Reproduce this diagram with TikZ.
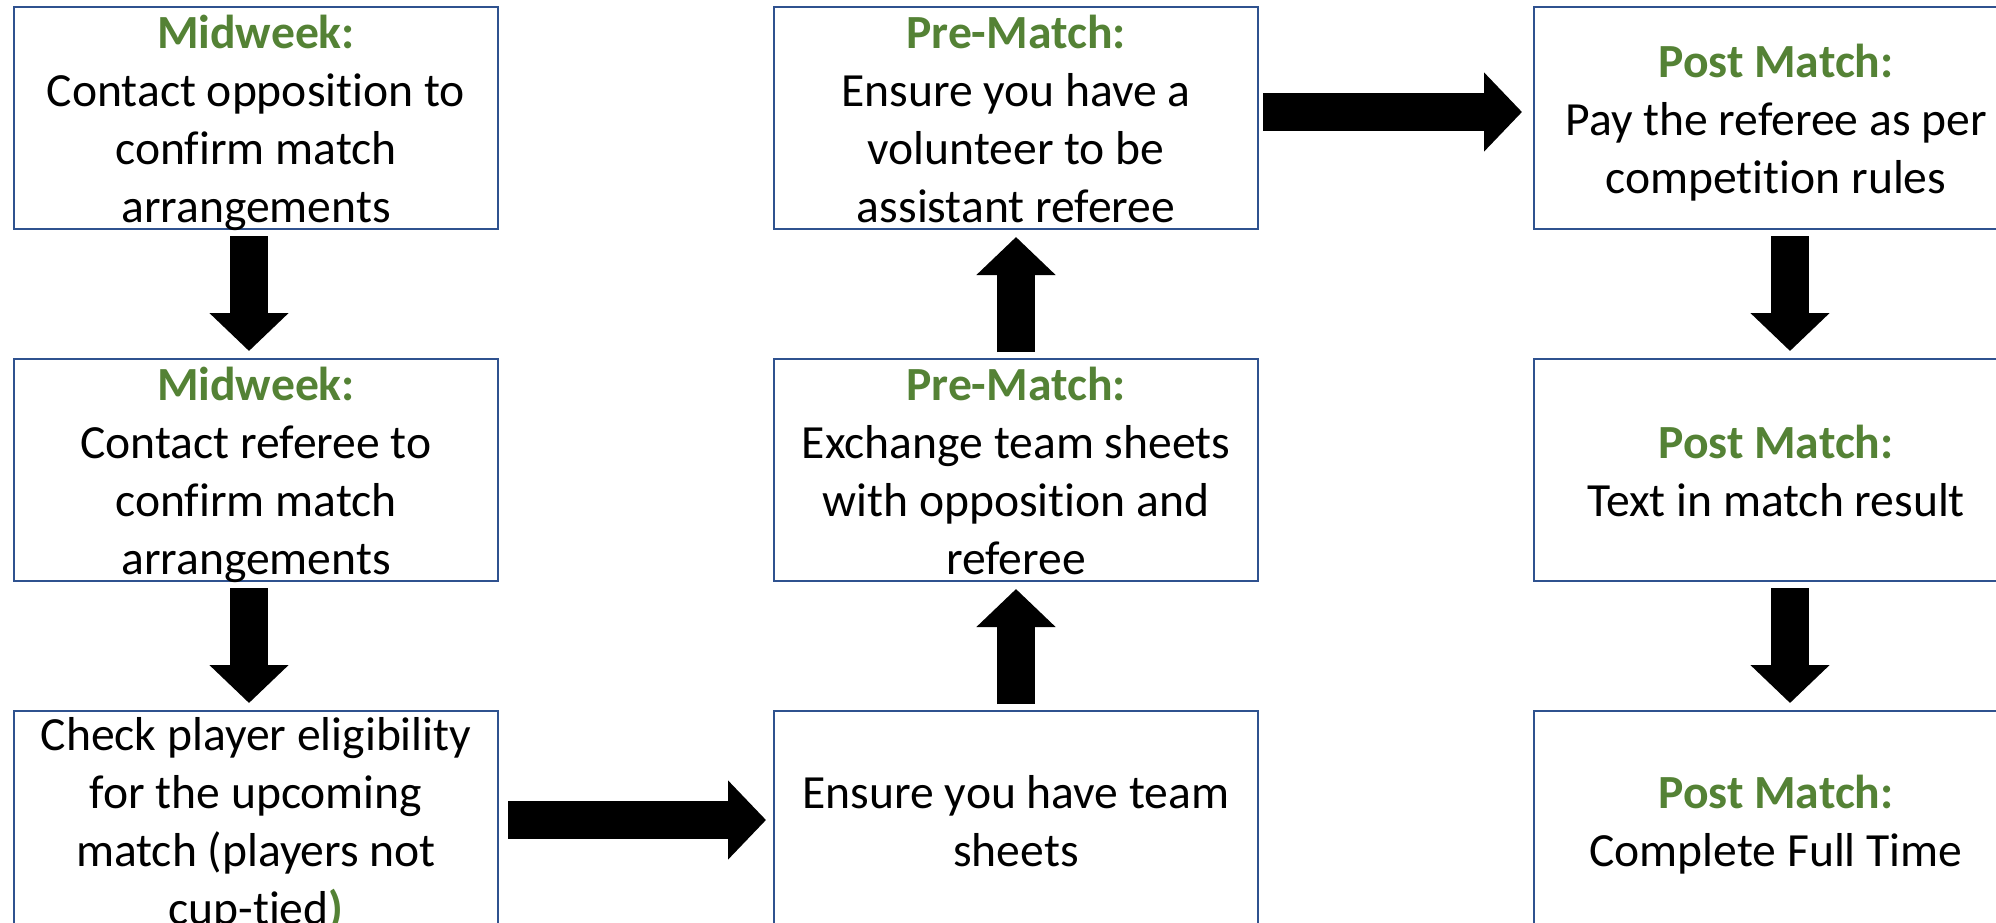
\documentclass[tikz,border=0pt]{standalone}
\usepackage{fontspec}
\setmainfont{Carlito}[Ligatures=NoCommon]
\usepackage{tikz}
\usetikzlibrary{positioning}
\usetikzlibrary{arrows.meta}
\definecolor{stepblue}{RGB}{47,82,143}
\definecolor{stepgreen}{RGB}{84,130,53}
\newcommand{\stagehead}[1]{\textcolor{stepgreen}{\textbf{#1}}}
\newcommand{\vstrut}{\rule[-6pt]{0pt}{29pt}}
\tikzset{
    match flow/.style={
            node distance=64pt and 137pt,
            stepbox/.style={draw=stepblue,line width=1pt,minimum width=242pt,minimum height=111pt,inner sep=0pt},
            lastbox/.style={stepbox,minimum height=109pt},
            steptext/.style={align=center,inner sep=0pt,font=\fontsize{23.8pt}{29pt}\selectfont},
            blockarrow/.style={line width=19pt,-{Triangle[length=19pt,width=38.5pt]},shorten <=3pt,shorten >=3.5pt}
        }
    }
\begin{document}
\begin{tikzpicture}[match flow]
    \useasboundingbox (0,0) rectangle (998pt,-461pt);
    \node[stepbox,anchor=north west] (mid1) at (6.5pt,-3pt) {};
    \node[stepbox] (mid2) [below=of mid1] {};
    \node[lastbox] (elig) [below=of mid2] {};
    \node[lastbox] (sheets) [right=of elig] {};
    \node[stepbox] (swap) [above=of sheets] {};
    \node[stepbox] (assist) [above=of swap] {};
    \node[stepbox] (pay) [right=of assist] {};
    \node[stepbox] (result) [below=of pay] {};
    \node[lastbox] (fulltime) [below=of result] {};
    % texts
    \node[steptext] at (mid1) {\vstrut\stagehead{Midweek:}\\Contact opposition to\\confirm match\\arrangements\vstrut};
    \node[steptext] at (mid2) {\vstrut\stagehead{Midweek:}\\Contact referee to\\confirm match\\arrangements\vstrut};
    \node[steptext] at (elig) {\vstrut Check player eligibility\\for the upcoming\\match (players not\\cup-tied\stagehead{)}\vstrut};
    \node[steptext] at (sheets) {\vstrut Ensure you have team\\sheets\vstrut};
    \node[steptext] at (swap) {\vstrut\stagehead{Pre-Match:}\\Exchange team sheets\\with opposition and\\referee\vstrut};
    \node[steptext] at (assist) {\vstrut\stagehead{Pre-Match:}\\Ensure you have a\\volunteer to be\\assistant referee\vstrut};
    \node[steptext] at (pay) {\vstrut\stagehead{Post Match:}\\Pay the referee as per\\competition rules\vstrut};
    \node[steptext] at (result) {\vstrut\stagehead{Post Match:}\\Text in match result\vstrut};
    \node[steptext] at (fulltime) {\vstrut\stagehead{Post Match:}\\Complete Full Time\vstrut};
    % arrows
    \draw [blockarrow] ([xshift=-3.5pt]mid1.south) -- ([xshift=-3.5pt]mid2.north);
    \draw [blockarrow] ([xshift=-3.5pt]mid2.south) -- ([xshift=-3.5pt]elig.north);
    \draw [blockarrow,shorten <=4.5pt] (elig.east) -- (sheets.west);
    \draw [blockarrow] (sheets.north) -- (swap.south);
    \draw [blockarrow] (swap.north) -- (assist.south);
    \draw [blockarrow,shorten <=2pt,shorten >=5.5pt] ([yshift=3pt]assist.east) -- ([yshift=3pt]pay.west);
    \draw [blockarrow] ([xshift=7pt]pay.south) -- ([xshift=7pt]result.north);
    \draw [blockarrow] ([xshift=7pt]result.south) -- ([xshift=7pt]fulltime.north);
\end{tikzpicture}
\end{document}
